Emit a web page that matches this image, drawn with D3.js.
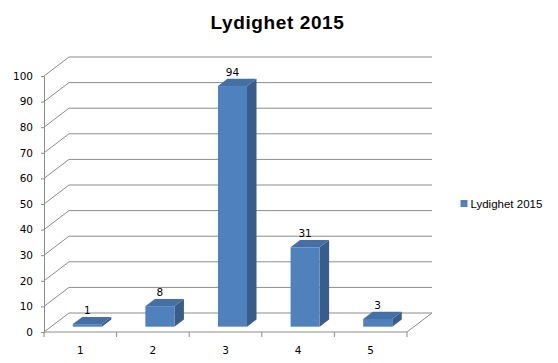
<!DOCTYPE html>
<html><head><meta charset="utf-8">
<script src="https://cdn.jsdelivr.net/npm/d3@7"></script>
<style>
html,body{margin:0;padding:0;background:#fff;}
svg{display:block;}
</style></head>
<body>
<svg id="chart" width="558" height="363"></svg>
<script>
const title = "Lydighet 2015";
const seriesName = "Lydighet 2015";
const categories = ["1", "2", "3", "4", "5"];
const values = [1, 8, 94, 31, 3];
const yTicks = [0, 10, 20, 30, 40, 50, 60, 70, 80, 90, 100];

(function () {
const svg = d3.select("#chart");
const W = 558, H = 363;
svg.append("rect").attr("width", W).attr("height", H).attr("fill", "#fff");

const plotLeft = 44, plotRight = 407, plotBottom = 332, plotTop = 76;
const depth = {dx: 25, dy: -19};
const d0 = 0.28, d1 = 0.66;

const y = d3.scaleLinear().domain([0, 100]).range([plotBottom, plotTop]);
const xb = d3.scaleBand().domain(categories).range([plotLeft, plotRight]).padding(0);
const xBar = d3.scaleBand().domain(categories).range([plotLeft, plotRight]).paddingInner(0.6).paddingOuter(0.3);

const gridColor = "#8c8c8c";

const grid = svg.append("g");
yTicks.forEach(v => {
  const yy = y(v);
  grid.append("line").attr("x1", plotLeft).attr("y1", yy).attr("x2", plotLeft + depth.dx).attr("y2", yy + depth.dy)
    .attr("stroke", gridColor).attr("stroke-width", 1);
  grid.append("line").attr("x1", plotLeft + depth.dx).attr("y1", yy + depth.dy).attr("x2", plotRight + depth.dx).attr("y2", yy + depth.dy)
    .attr("stroke", gridColor).attr("stroke-width", 1);
});
grid.append("line").attr("x1", plotRight).attr("y1", plotBottom).attr("x2", plotRight + depth.dx).attr("y2", plotBottom + depth.dy)
  .attr("stroke", gridColor);

const yAxis = d3.axisLeft(y).tickValues(yTicks).tickSize(3).tickPadding(8);
const gy = svg.append("g").attr("transform", `translate(${plotLeft},0)`).call(yAxis);
gy.select(".domain").attr("stroke", gridColor);
gy.selectAll(".tick line").attr("stroke", gridColor);
gy.selectAll(".tick text").attr("font-family", "DejaVu Sans, Verdana, sans-serif").attr("font-size", "10.5px").attr("fill", "#000");

const xAxis = d3.axisBottom(xb).tickSize(0).tickPadding(15);
const gx = svg.append("g").attr("transform", `translate(0,${plotBottom})`).call(xAxis);
gx.select(".domain").attr("stroke", gridColor).attr("d", `M${plotLeft},0H${plotRight}`);
gx.selectAll(".tick text").attr("font-family", "DejaVu Sans, Verdana, sans-serif").attr("font-size", "10.5px").attr("fill", "#000");
const bounds = categories.map(c => xb(c)).concat([plotRight]);
gx.selectAll("line.sep").data(bounds).enter().append("line").attr("class", "sep")
  .attr("x1", d => d).attr("x2", d => d).attr("y1", 0).attr("y2", 5).attr("stroke", gridColor);

const ox = depth.dx * d0, oy = depth.dy * d0;
const ddx = depth.dx * (d1 - d0), ddy = depth.dy * (d1 - d0);
const bw = xBar.bandwidth();
const bars = svg.append("g");
categories.forEach((c, i) => {
  const v = values[i];
  const fx = xBar(c) + ox;
  const fyT = y(v) + oy, fyB = y(0) + oy;
  bars.append("polygon")
    .attr("points", [[fx + bw, fyT], [fx + bw + ddx, fyT + ddy], [fx + bw + ddx, fyB + ddy], [fx + bw, fyB]].join(" "))
    .attr("fill", "#385D8A");
  bars.append("rect").attr("x", fx).attr("y", fyT).attr("width", bw).attr("height", fyB - fyT)
    .attr("fill", "#4F81BD");
  bars.append("polygon")
    .attr("points", [[fx, fyT], [fx + bw, fyT], [fx + bw + ddx, fyT + ddy], [fx + ddx, fyT + ddy]].join(" "))
    .attr("fill", "#4470A8");
  bars.append("text").attr("x", fx + bw / 2).attr("y", fyT + ddy - 3)
    .attr("text-anchor", "middle")
    .attr("font-family", "DejaVu Sans, Verdana, sans-serif").attr("font-size", "10.5px").attr("fill", "#000")
    .text(v);
});

svg.append("text").attr("x", 277.5).attr("y", 28.5).attr("text-anchor", "middle")
  .attr("font-family", "Liberation Sans, Arial, sans-serif").attr("font-weight", "bold")
  .attr("font-size", "19px").attr("letter-spacing", "0.6px").attr("fill", "#000").text(title);

const lg = svg.append("g").attr("transform", "translate(460,200)");
lg.append("rect").attr("x", 0.5).attr("y", 0).attr("width", 7).attr("height", 7).attr("fill", "#4F81BD");
lg.append("text").attr("x", 10.5).attr("y", 7.5)
  .attr("font-family", "Liberation Sans, Arial, sans-serif").attr("font-size", "11.5px").attr("fill", "#000")
  .text(seriesName);
})();
</script>
</body></html>
